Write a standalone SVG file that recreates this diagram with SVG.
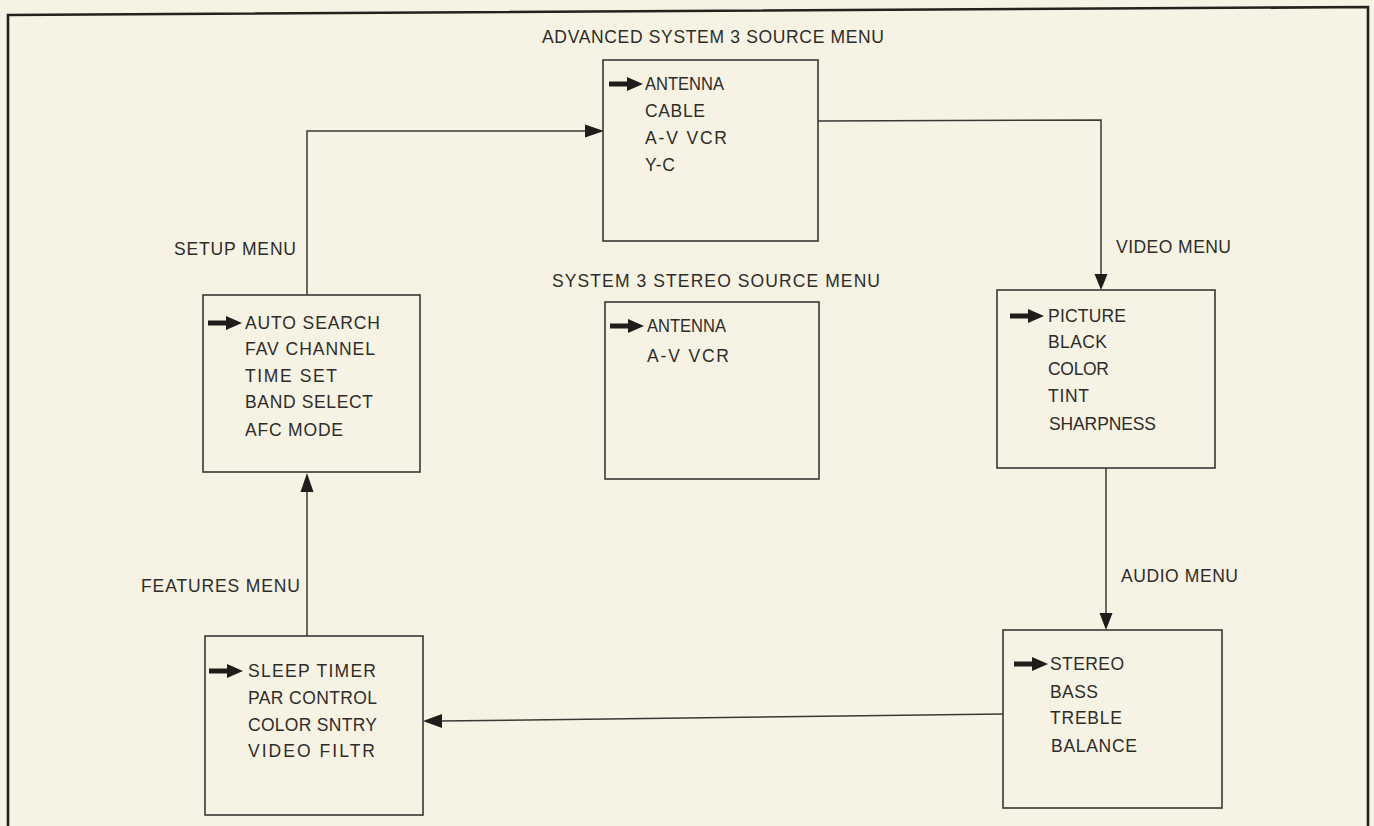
<svg xmlns="http://www.w3.org/2000/svg" xmlns:xlink="http://www.w3.org/1999/xlink" width="1374" height="826" viewBox="0 0 1374 826">
<defs>
<style>
.t{font-family:"Liberation Sans",Arial,sans-serif;font-size:17.5px;fill:#2e2c28}
.box{fill:none;stroke:#3a3835;stroke-width:1.6}
.ln{fill:none;stroke:#3a3835;stroke-width:1.5}
.ah{fill:#1e1d1b}
.frame{fill:none;stroke:#24221f;stroke-width:2.6}
</style>
<path id="ptr" d="M0,-2.6 H18 V-7 L34,0 L18,7 V2.6 H0 Z" fill="#1e1d1b"/>
</defs>
<rect x="0" y="0" width="1374" height="826" fill="#f7f3e4"/>
<path class="frame" d="M8,826 V15 L1368,7 V826"/>

<g id="connectors">
<path class="ln" d="M307,295 V131 H587"/>
<polygon class="ah" points="585,124.5 604,131 585,137.5"/>
<path class="ln" d="M818,121 L1101,120 V276"/>
<polygon class="ah" points="1094.5,274 1107.5,274 1101,290"/>
<path class="ln" d="M1106,468 V615"/>
<polygon class="ah" points="1099.5,613 1112.5,613 1106,630"/>
<path class="ln" d="M1003,714 L440,721"/>
<polygon class="ah" points="442,714 442,728 423,721"/>
<path class="ln" d="M307,636 V490"/>
<polygon class="ah" points="300.5,492 313.5,492 307,473"/>
</g>

<g id="advanced">
<text class="t" x="542" y="43" textLength="342" lengthAdjust="spacing">ADVANCED SYSTEM 3 SOURCE MENU</text>
<rect class="box" x="603" y="60" width="215" height="181"/>
<use xlink:href="#ptr" x="609" y="84"/>
<text class="t" x="645" y="90" textLength="79" lengthAdjust="spacingAndGlyphs">ANTENNA</text>
<text class="t" x="645" y="117" textLength="60" lengthAdjust="spacing">CABLE</text>
<text class="t" x="645" y="144" textLength="82" lengthAdjust="spacing">A-V VCR</text>
<text class="t" x="645" y="171" textLength="30" lengthAdjust="spacing">Y-C</text>
</g>

<g id="stereo">
<text class="t" x="552" y="287" textLength="328" lengthAdjust="spacing">SYSTEM 3 STEREO SOURCE MENU</text>
<rect class="box" x="605" y="302" width="214" height="177"/>
<use xlink:href="#ptr" x="610" y="326"/>
<text class="t" x="647" y="332" textLength="79" lengthAdjust="spacingAndGlyphs">ANTENNA</text>
<text class="t" x="647" y="362" textLength="82" lengthAdjust="spacing">A-V VCR</text>
</g>

<g id="setup">
<text class="t" x="174" y="255" textLength="122" lengthAdjust="spacing">SETUP MENU</text>
<rect class="box" x="203" y="295" width="217" height="177"/>
<use xlink:href="#ptr" x="208" y="323"/>
<text class="t" x="245" y="329" textLength="135" lengthAdjust="spacing">AUTO SEARCH</text>
<text class="t" x="245" y="355" textLength="130" lengthAdjust="spacing">FAV CHANNEL</text>
<text class="t" x="245" y="382" textLength="92" lengthAdjust="spacing">TIME SET</text>
<text class="t" x="245" y="408" textLength="128" lengthAdjust="spacing">BAND SELECT</text>
<text class="t" x="245" y="436" textLength="98" lengthAdjust="spacing">AFC MODE</text>
</g>

<g id="video">
<text class="t" x="1116" y="253" textLength="115" lengthAdjust="spacing">VIDEO MENU</text>
<rect class="box" x="997" y="290" width="218" height="178"/>
<use xlink:href="#ptr" x="1010" y="316"/>
<text class="t" x="1048" y="322" textLength="78" lengthAdjust="spacing">PICTURE</text>
<text class="t" x="1048" y="348" textLength="59" lengthAdjust="spacing">BLACK</text>
<text class="t" x="1048" y="375" textLength="61" lengthAdjust="spacing">COLOR</text>
<text class="t" x="1048" y="402" textLength="41" lengthAdjust="spacing">TINT</text>
<text class="t" x="1049" y="430" textLength="107" lengthAdjust="spacing">SHARPNESS</text>
</g>

<g id="audio">
<text class="t" x="1121" y="582" textLength="117" lengthAdjust="spacing">AUDIO MENU</text>
<rect class="box" x="1003" y="630" width="219" height="178"/>
<use xlink:href="#ptr" x="1014" y="664"/>
<text class="t" x="1050" y="670" textLength="74" lengthAdjust="spacing">STEREO</text>
<text class="t" x="1050" y="698" textLength="48" lengthAdjust="spacing">BASS</text>
<text class="t" x="1050" y="724" textLength="72" lengthAdjust="spacing">TREBLE</text>
<text class="t" x="1051" y="752" textLength="86" lengthAdjust="spacing">BALANCE</text>
</g>

<g id="features">
<text class="t" x="141" y="592" textLength="159" lengthAdjust="spacing">FEATURES MENU</text>
<rect class="box" x="205" y="636" width="218" height="179"/>
<use xlink:href="#ptr" x="209" y="671"/>
<text class="t" x="248" y="677" textLength="128" lengthAdjust="spacing">SLEEP TIMER</text>
<text class="t" x="248" y="704" textLength="129" lengthAdjust="spacing">PAR CONTROL</text>
<text class="t" x="248" y="731" textLength="129" lengthAdjust="spacing">COLOR SNTRY</text>
<text class="t" x="248" y="757" textLength="127" lengthAdjust="spacing">VIDEO FILTR</text>
</g>
</svg>
